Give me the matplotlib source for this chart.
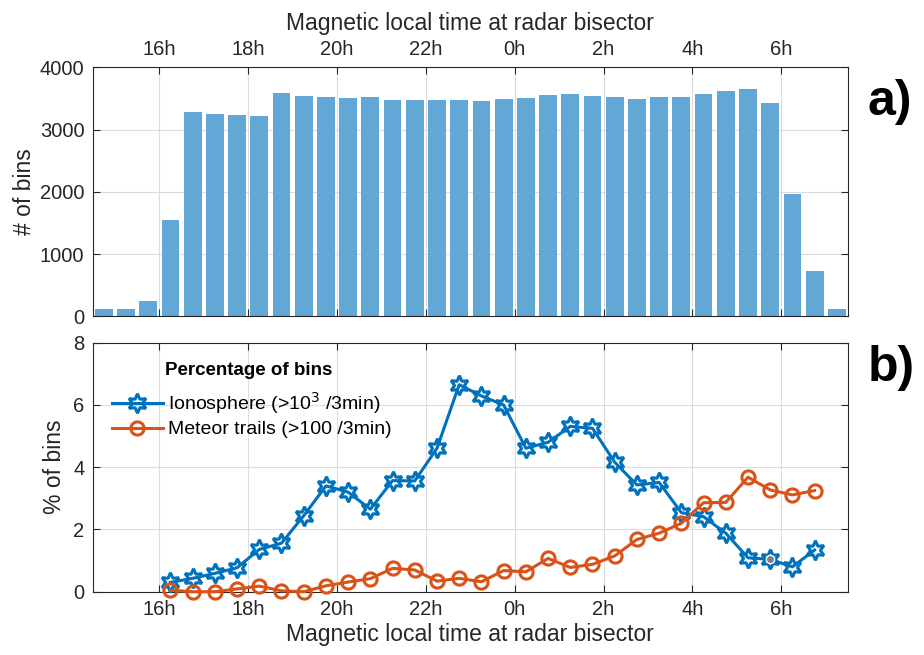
import numpy as np
import matplotlib
matplotlib.use("Agg")
from matplotlib import pyplot as plt

plt.rcParams["font.family"] = ["Liberation Sans", "DejaVu Sans"]

# bin centres in MLT (hours, >24 means past midnight)
bar_mlt = np.arange(14.75, 31.5, 0.5)
bin_counts = [115, 125, 254, 1549, 3283, 3245, 3239, 3213, 3592, 3539, 3523,
              3512, 3518, 3475, 3475, 3470, 3475, 3459, 3491, 3507, 3550, 3576,
              3534, 3518, 3496, 3518, 3518, 3571, 3624, 3656, 3427, 1971, 735, 120]

pct_mlt = np.arange(16.25, 31.0, 0.5)
iono_pct = [0.30, 0.43, 0.59, 0.77, 1.36, 1.56, 2.44, 3.40, 3.20, 2.65, 3.57,
            3.56, 4.61, 6.65, 6.29, 6.00, 4.61, 4.80, 5.31, 5.25, 4.16, 3.43,
            3.51, 2.54, 2.41, 1.88, 1.09, 1.04, 0.80, 1.34]
meteor_pct = [0.05, 0.0, 0.0, 0.09, 0.18, 0.03, 0.0, 0.19, 0.31, 0.42, 0.75,
              0.70, 0.34, 0.43, 0.32, 0.68, 0.64, 1.07, 0.78, 0.88, 1.15, 1.68,
              1.88, 2.20, 2.86, 2.87, 3.68, 3.27, 3.11, 3.25]

tick_pos = [16, 18, 20, 22, 24, 26, 28, 30]
tick_lbl = ["16h", "18h", "20h", "22h", "0h", "2h", "4h", "6h"]

BLUE = "#0072BD"
ORANGE = "#D95319"
BAR = "#63A7D7"
INK = "#262626"

fig = plt.figure(figsize=(9.24, 6.55), dpi=100)
ax1 = fig.add_axes([0.1003, 0.5168, 0.8174, 0.3804])
ax2 = fig.add_axes([0.1003, 0.0966, 0.8174, 0.3802])


def style(ax):
    ax.set_xlim(14.5, 31.5)
    ax.set_xticks(tick_pos)
    ax.grid(True, color="#dcdcdc", linewidth=0.8)
    ax.set_axisbelow(True)
    ax.tick_params(direction="in", top=True, right=True, length=5,
                   width=0.8, color=INK, labelsize=14.5, pad=6,
                   labelcolor=INK)
    for s in ax.spines.values():
        s.set_color(INK)
        s.set_linewidth(0.8)


# a) number of bins per MLT bin
style(ax1)
ax1.bar(bar_mlt, bin_counts, width=0.4, color=BAR, zorder=2)
ax1.set_ylim(0, 4000)
ax1.set_yticks([0, 1000, 2000, 3000, 4000])
ax1.xaxis.set_ticks_position("both")
ax1.tick_params(labeltop=True, labelbottom=False)
ax1.set_xticklabels(tick_lbl)
ax1.xaxis.set_label_position("top")
ax1.set_xlabel("Magnetic local time at radar bisector", fontsize=16.5,
               color=INK, labelpad=7)
ax1.set_ylabel("# of bins", fontsize=16.5, color=INK, labelpad=3)

# b) percentage of bins above threshold
style(ax2)
ax2.plot(pct_mlt, iono_pct, color=BLUE, linewidth=2.2, marker=(6, 1, 0),
         markersize=14, markerfacecolor="none", markeredgewidth=2.2,
         clip_on=False, zorder=3,
         label="Ionosphere (>10$^{3}$ /3min)")
ax2.plot(pct_mlt, meteor_pct, color=ORANGE, linewidth=2.2, marker="o",
         markersize=9.5, markerfacecolor="none", markeredgewidth=2.2,
         clip_on=False, zorder=3, label="Meteor trails (>100 /3min)")
# data tip on the 5.75 MLT point
ax2.plot(pct_mlt[27], iono_pct[27], marker="o", markersize=6,
         color="#808080", markeredgecolor="white", markeredgewidth=1,
         zorder=4)
ax2.set_ylim(0, 8)
ax2.set_yticks([0, 2, 4, 6, 8])
ax2.set_xticklabels(tick_lbl)
ax2.set_xlabel("Magnetic local time at radar bisector", fontsize=16.5,
               color=INK, labelpad=3)
ax2.set_ylabel("% of bins", fontsize=16.5, color=INK, labelpad=5)
ax2.legend(loc="upper left", bbox_to_anchor=(0.0256, 0.81), frameon=False,
           fontsize=14, borderpad=0, borderaxespad=0,
           handlelength=2.6, handletextpad=0.3, labelspacing=0.25)
ax2.text(0.0957, 0.89, "Percentage of bins", transform=ax2.transAxes,
         fontsize=13.5, fontweight="bold", ha="left", va="center")

fig.text(0.939, 0.845, "a)", fontsize=36, fontweight="bold", ha="left",
         va="center")
fig.text(0.939, 0.438, "b)", fontsize=36, fontweight="bold", ha="left",
         va="center")

fig.savefig("out.png", dpi=100)
